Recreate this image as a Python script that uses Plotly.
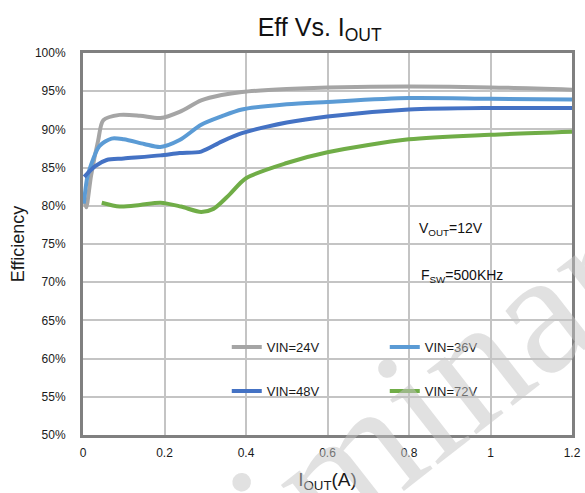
import plotly.graph_objects as go

# ---- data ----
x_24 = [0.004, 0.008, 0.02, 0.037, 0.05, 0.09, 0.14, 0.19, 0.237, 0.29, 0.34, 0.39, 0.5, 0.6, 0.8, 1.0, 1.2]
y_24 = [80.6, 79.8, 84.0, 88.5, 91.2, 91.9, 91.8, 91.5, 92.3, 93.8, 94.5, 94.9, 95.3, 95.5, 95.6, 95.5, 95.2]

x_36 = [0.002, 0.01, 0.018, 0.04, 0.07, 0.1, 0.15, 0.19, 0.237, 0.29, 0.34, 0.39, 0.5, 0.6, 0.8, 1.0, 1.2]
y_36 = [80.3, 83.6, 85.1, 87.8, 88.8, 88.7, 88.1, 87.7, 88.6, 90.6, 91.7, 92.6, 93.3, 93.6, 94.1, 94.0, 93.9]

x_48 = [0.003, 0.03, 0.058, 0.1, 0.19, 0.237, 0.29, 0.34, 0.39, 0.5, 0.6, 0.8, 1.0, 1.2]
y_48 = [83.8, 85.2, 86.0, 86.2, 86.6, 86.9, 87.1, 88.4, 89.5, 90.9, 91.7, 92.6, 92.8, 92.8]

x_72 = [0.046, 0.09, 0.14, 0.19, 0.24, 0.29, 0.32, 0.36, 0.4, 0.5, 0.6, 0.8, 1.0, 1.2]
y_72 = [80.4, 79.9, 80.1, 80.4, 79.9, 79.2, 79.6, 81.5, 83.6, 85.6, 87.0, 88.7, 89.3, 89.7]

names = ["VIN=24V", "VIN=36V", "VIN=48V", "VIN=72V"]
colors = ["#a5a5a5", "#5b9bd5", "#4472c4", "#70ad47"]
legend_ids = ["legend", "legend", "legend2", "legend2"]

x_ticks = [0, 0.2, 0.4, 0.6, 0.8, 1.0, 1.2]
x_ticklabels = ["0", "0.2", "0.4", "0.6", "0.8", "1", "1.2"]
y_ticks = [50, 55, 60, 65, 70, 75, 80, 85, 90, 95, 100]
y_ticklabels = [f"{v}%" for v in y_ticks]

FONT = "Liberation Sans, Arial, sans-serif"

fig = go.Figure()
for xs, ys, nm, col, lg in zip([x_24, x_36, x_48, x_72], [y_24, y_36, y_48, y_72],
                               names, colors, legend_ids):
    fig.add_trace(go.Scatter(x=xs, y=ys, name=nm, mode="lines",
                             line=dict(color=col, width=4, shape="spline", smoothing=0.8),
                             legend=lg))

fig.update_layout(
    width=585, height=493,
    margin=dict(l=83, r=10, t=53, b=58),
    paper_bgcolor="white", plot_bgcolor="white",
    font=dict(family=FONT, size=12, color="#1a1a1a"),
    title=dict(text="Eff Vs. I<sub>OUT</sub>", x=0.484, xref="paper", xanchor="center",
               y=0.945, yref="container", yanchor="middle",
               font=dict(size=25, color="#111111")),
    xaxis=dict(range=[0, 1.2], tickvals=x_ticks, ticktext=x_ticklabels, automargin=False,
               showgrid=True, gridcolor="#c4c4c4", gridwidth=1.5,
               showline=True, linecolor="#808080", linewidth=3, mirror=True, zeroline=False,
               ticks="", ticklabelstandoff=5,
               title=dict(text="I<sub>OUT</sub>(A)", font=dict(size=19))),
    yaxis=dict(range=[50, 100], tickvals=y_ticks, ticktext=y_ticklabels, automargin=True,
               showgrid=True, gridcolor="#c4c4c4", gridwidth=1.5,
               showline=True, linecolor="#808080", linewidth=3, mirror=True, zeroline=False,
               ticks="", ticklabelstandoff=12,
               title=dict(text="Efficiency", font=dict(size=18), standoff=6)),
    legend=dict(orientation="h", x=0.294, y=0.23, xanchor="left", yanchor="middle",
                bgcolor="rgba(0,0,0,0)", entrywidth=113, font=dict(size=13)),
    legend2=dict(orientation="h", x=0.294, y=0.115, xanchor="left", yanchor="middle",
                 bgcolor="rgba(0,0,0,0)", entrywidth=113, font=dict(size=13)),
    showlegend=True,
)

fig.add_annotation(text="V<sub>OUT</sub>=12V", xref="paper", yref="paper",
                   x=(419 - 83) / 492, y=(435 - 229) / 382, xanchor="left", yanchor="middle",
                   showarrow=False, font=dict(size=14, color="#111111"))
fig.add_annotation(text="F<sub>SW</sub>=500KHz", xref="paper", yref="paper",
                   x=(421 - 83) / 492, y=(435 - 276) / 382, xanchor="left", yanchor="middle",
                   showarrow=False, font=dict(size=14, color="#111111"))
fig.add_annotation(text="Preliminary", xref="paper", yref="paper",
                   x=(358 - 83) / 492, y=(435 - 453) / 382, xanchor="center", yanchor="middle",
                   textangle=-38, showarrow=False,
                   font=dict(size=175, family="Liberation Serif, Times New Roman, serif",
                             color="rgba(195,195,195,0.5)"))

fig.write_html("out.html", config={"displayModeBar": False},
               post_script="document.body.style.margin='0';")
